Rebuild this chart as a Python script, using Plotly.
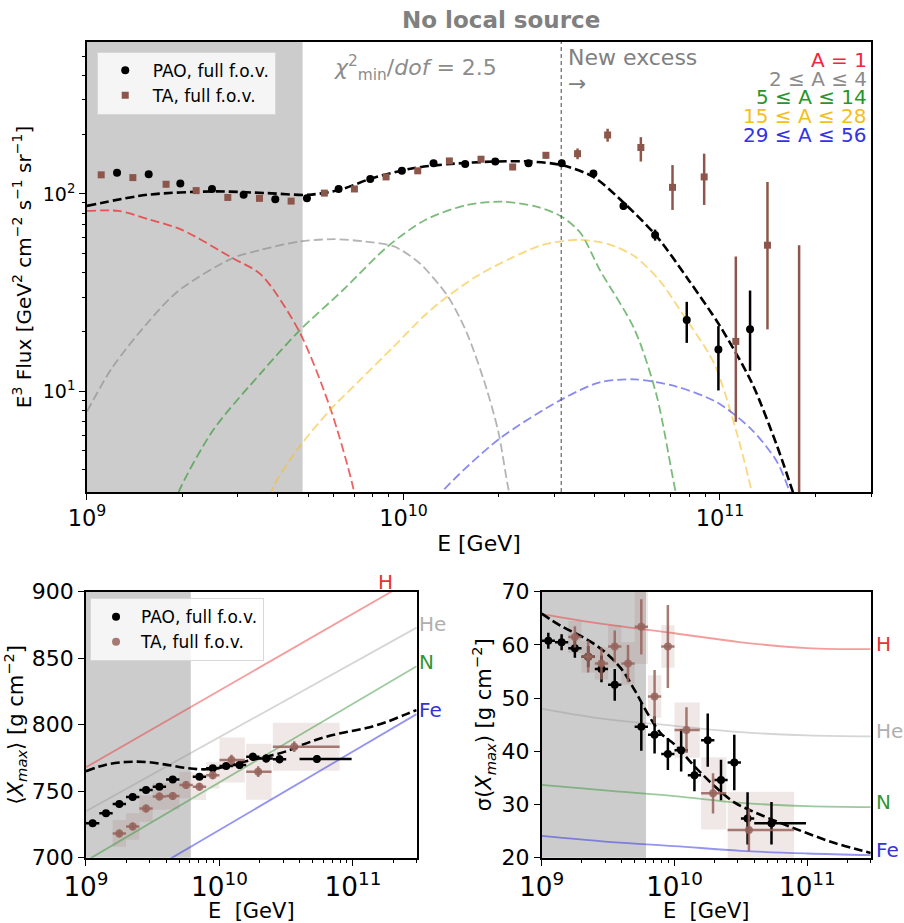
import numpy as np
import plotly.graph_objects as go

# ---------------- Top panel: E^3-weighted flux ----------------
pao_logE = [9.095, 9.195, 9.295, 9.395, 9.495, 9.595, 9.695, 9.795, 9.895, 9.995, 10.095,
            10.195, 10.29, 10.395, 10.5, 10.6, 10.695, 10.795, 10.895, 10.995, 11.095]
pao_flux = [128, 126, 113, 106, 99, 94, 95, 106, 119, 131, 143,
            142, 146, 143, 143, 127, 87, 62, 23, 16.3, 20.6]
pao_flux_up = [3, 3, 3, 2, 2, 2, 2, 2, 2, 2, 2, 3, 3, 3, 3, 3, 4, 4, 5.4, 5.1, 11.8]
pao_flux_dn = [3, 3, 3, 2, 2, 2, 2, 2, 2, 2, 2, 3, 3, 3, 3, 3, 4, 4, 5.4, 6.2, 7.9]

ta_logE = [9.045, 9.145, 9.25, 9.345, 9.445, 9.545, 9.645, 9.75, 9.845, 9.945, 10.045, 10.145,
           10.245, 10.345, 10.45, 10.55, 10.645, 10.75, 10.85, 10.95, 11.05, 11.15, 11.25]
ta_flux = [125, 121, 112, 104, 96, 95, 92, 101, 106, 122, 131, 147,
           150, 137, 157, 160, 199, 172, 108, 122, 17.9, 55, 2.0]
ta_flux_up = [4, 4, 4, 3, 3, 3, 3, 3, 3, 3, 4, 4, 4, 5, 6, 10, 15, 22, 32, 38, 30.3, 60, 53]
ta_flux_dn = [4, 4, 4, 3, 3, 3, 3, 3, 3, 3, 4, 4, 4, 5, 6, 10, 15, 26, 25, 34, 10.9, 34.4, 1.9]

# model components (mass groups) and total
h_logE = [9.0, 9.1, 9.2, 9.3, 9.46, 9.55, 9.67, 9.77, 9.84, 9.87]
h_flux = [82, 82, 74, 65.8, 47.3, 39, 20.2, 8.1, 3.3, 1.8]
he_logE = [9.0, 9.08, 9.19, 9.29, 9.46, 9.55, 9.67, 9.78, 9.88, 9.97, 10.05, 10.14, 10.2,
           10.26, 10.3, 10.33, 10.36]
he_flux = [7.9, 13.2, 22.1, 32.4, 47.3, 52.1, 57.4, 59.0, 57.4, 54.2, 44.7, 30.3, 19.8,
           10.6, 6.2, 3.3, 2.0]
n_logE = [9.25, 9.29, 9.4, 9.55, 9.67, 9.81, 9.95, 10.07, 10.2, 10.31, 10.42, 10.5, 10.56,
          10.62, 10.73, 10.8, 10.86, 10.89]
n_flux = [2.0, 3.1, 6.4, 12.4, 20.2, 32.7, 54.2, 74.0, 87.9, 91.4, 86.3, 76.7, 63.2,
          41.3, 20.6, 9.5, 3.1, 2.0]
si_logE = [9.56, 9.59, 9.67, 9.77, 9.86, 9.97, 10.07, 10.14, 10.23, 10.34, 10.44, 10.55,
           10.65, 10.73, 10.81, 10.88, 10.98, 11.05, 11.1, 11.12]
si_flux = [2.2, 3.3, 5.2, 8.1, 11.3, 16.9, 24.5, 30.3, 38.2, 47.3, 55.2, 58.6,
           55.6, 48.3, 36.3, 24.9, 14, 6.4, 3.1, 2.0]
fe_logE = [10.08, 10.13, 10.3, 10.5, 10.62, 10.73, 10.86, 10.99, 11.1, 11.18, 11.22, 11.25]
fe_flux = [2.5, 3.2, 5.7, 9.1, 11.1, 11.5, 10.6, 8.8, 6.4, 4.4, 3.1, 2.2]
tot_logE = [9.0, 9.19, 9.4, 9.57, 9.7, 9.8, 9.9, 10.03, 10.15, 10.29, 10.4, 10.5, 10.6, 10.7,
            10.8, 10.9, 11.0, 11.1, 11.18, 11.23, 11.26]
tot_flux = [87, 99, 103, 101, 99, 105, 120, 135, 142, 146, 146, 140, 122, 89,
            61, 36.8, 21.4, 11.1, 5.3, 3.1, 2.2]

group_labels = ["A = 1", "2 ≤ A ≤ 4", "5 ≤ A ≤ 14", "15 ≤ A ≤ 28", "29 ≤ A ≤ 56"]
fit_chi2_dof = 2.5
E_excess = 3.15e10
E_shade_top = 4.8e9
flux_ticks = [10, 100]

# ---------------- Bottom panels: Xmax moments ----------------
xm_pao_logE = [9.05, 9.15, 9.25, 9.35, 9.45, 9.55, 9.65, 9.85, 9.95, 10.05, 10.15, 10.25, 10.35, 10.45, 10.73]
xm_pao = [726.0, 733.4, 740.4, 745.6, 750.9, 753.4, 758.9, 760.9, 767.2, 769.0, 769.7, 776.0, 774.7, 774.0, 774.2]
xm_pao_err = [2.5, 2.5, 2.5, 2.5, 2.5, 2.5, 2.5, 2.5, 2.5, 2.5, 3, 3, 3, 3, 3]
xm_pao_dlo = [0.05] * 14 + [0.13]
xm_pao_dhi = [0.05] * 14 + [0.26]

sg_pao_logE = [9.05, 9.15, 9.25, 9.35, 9.45, 9.55, 9.75, 9.85, 9.95, 10.05, 10.15, 10.25, 10.35, 10.45, 10.55, 10.73]
sg_pao = [60.8, 60.5, 59.4, 57.8, 55.5, 52.5, 44.6, 43.1, 39.5, 40.2, 35.5, 42.1, 34.6, 37.9, 27.4, 26.5]
sg_pao_err = [1.5, 1.5, 1.8, 2.0, 2.5, 3.0, 4.5, 3.5, 3.0, 4.0, 3.0, 5.0, 3.8, 5.2, 4.9, 4.0]
sg_pao_dlo = [0.05] * 15 + [0.13]
sg_pao_dhi = [0.05] * 15 + [0.26]

ta_b_logE = [9.25, 9.35, 9.45, 9.55, 9.65, 9.75, 9.85, 9.95, 10.09, 10.29, 10.56]
ta_xm = [718.3, 723.5, 737.0, 746.0, 746.4, 754.7, 753.4, 762.0, 773.5, 764.7, 783.5]
ta_xm_err = [3, 3, 3, 3, 3, 3, 3, 3, 4, 4, 4]
ta_xm_sys = [10, 10, 10, 10, 10, 10, 10, 10, 17, 21, 18]
ta_sg = [61.5, 57.8, 56.5, 59.7, 56.5, 63.4, 50.3, 59.7, 44.0, 32.1, 25.2]
ta_sg_err = [2, 3, 3, 3, 3.5, 5.2, 5, 7.8, 4.3, 3.8, 4]
ta_sg_sys = [3, 3, 3, 4, 4, 7, 4, 4, 5.2, 6.8, 7.2]
ta_dlo = [0.05] * 8 + [0.09, 0.09, 0.16]
ta_dhi = [0.05] * 8 + [0.10, 0.10, 0.34]

xm_model_logE = [9.0, 9.15, 9.3, 9.45, 9.6, 9.75, 9.9, 10.05, 10.2, 10.35, 10.5, 10.65,
                 10.8, 10.95, 11.1, 11.25, 11.4, 11.477]
xm_model = [765, 770, 772, 772, 770, 767.5, 766.5, 768.5, 772.5, 776, 780, 786,
            791, 794.5, 797.5, 802, 808, 811]
sg_model_logE = [9.0, 9.15, 9.3, 9.45, 9.6, 9.7, 9.8, 9.9, 10.0, 10.15, 10.3, 10.45,
                 10.6, 10.8, 11.0, 11.2, 11.4, 11.477]
sg_model = [65.9, 63.5, 61.6, 59.2, 55.5, 51.5, 47.0, 43.3, 41.3, 37.2, 33.5, 30.4,
            28.6, 26.5, 24.6, 22.8, 21.4, 20.9]

# pure-element expectations
elem_names = ["H", "He", "N", "Fe"]
xm_elem_logE = [9.0, 11.477]
xm_elem = {"H": [768, 911], "He": [735, 873], "N": [697.6, 844], "Fe": [662, 808]}
sg_elem_logE = [9.0, 9.5, 10.0, 10.5, 11.0, 11.477]
sg_elem = {"H": [65.8, 63.8, 62.2, 60.5, 59.4, 59.2],
           "He": [48.0, 46.0, 44.8, 43.6, 43.0, 42.8],
           "N": [33.7, 32.6, 31.6, 30.3, 29.7, 29.5],
           "Fe": [24.1, 23.0, 22.2, 21.3, 20.8, 20.5]}
E_shade_bottom = 6.1e9

E_min, E_max = 1e9, 3e11

# ---------------- styling ----------------
FONT = "DejaVu Sans"
BROWN = "#8c564b"
BROWN_B = "rgba(150,100,92,0.85)"
BOX = "rgba(150,95,85,0.14)"
SHADE = "rgba(128,128,128,0.40)"
grp_line = ["rgba(235,45,45,0.75)", "rgba(140,140,140,0.65)", "rgba(50,150,50,0.65)",
            "rgba(245,190,40,0.6)", "rgba(60,60,235,0.6)"]
grp_text = ["rgb(235,40,60)", "rgb(140,140,140)", "rgb(40,150,40)", "rgb(245,190,30)", "rgb(50,50,230)"]
elem_line = {"H": "rgba(235,60,60,0.5)", "He": "rgba(150,150,150,0.4)",
             "N": "rgba(60,150,60,0.5)", "Fe": "rgba(60,60,230,0.55)"}
elem_text = {"H": "rgb(230,50,50)", "He": "rgb(175,175,175)", "N": "rgb(50,150,50)", "Fe": "rgb(50,50,220)"}


def E(v):
    return [10 ** x for x in v]


def band(x0, x1, y0, y1, xa, ya):
    return go.Scatter(x=[x0, x1, x1, x0, x0], y=[y0, y0, y1, y1, y0], mode="lines",
                      fill="toself", fillcolor=SHADE, line=dict(width=0),
                      hoverinfo="skip", showlegend=False, xaxis=xa, yaxis=ya)


def boxes(logE, vals, sys, dlo, dhi, xa, ya):
    xs, ys = [], []
    for le, v, s, a, b in zip(logE, vals, sys, dlo, dhi):
        x0, x1 = 10 ** (le - a), 10 ** (le + b)
        xs += [x0, x1, x1, x0, x0, None]
        ys += [v - s, v - s, v + s, v + s, v - s, None]
    return go.Scatter(x=xs, y=ys, mode="lines", fill="toself", fillcolor=BOX,
                      line=dict(width=0), hoverinfo="skip", showlegend=False,
                      xaxis=xa, yaxis=ya)


def xerr(logE, dlo, dhi):
    ex = [10 ** le for le in logE]
    hi = [e * (10 ** b - 1) for e, b in zip(ex, dhi)]
    lo = [e * (1 - 10 ** -a) for e, a in zip(ex, dlo)]
    return dict(type="data", symmetric=False, array=hi, arrayminus=lo,
                thickness=2.5, width=0)


fig = go.Figure()

# ---- top panel ----
fig.add_trace(band(E_min, E_shade_top, 1e-1, 1e4, "x", "y"))
comps = [(h_logE, h_flux), (he_logE, he_flux), (n_logE, n_flux), (si_logE, si_flux), (fe_logE, fe_flux)]
for (lx, fx), col in zip(comps, grp_line):
    fig.add_trace(go.Scatter(x=E(lx), y=fx, mode="lines",
                             line=dict(color=col, width=1.8, dash="9px,4px", shape="spline", smoothing=0.8),
                             showlegend=False, hoverinfo="skip", xaxis="x", yaxis="y"))
fig.add_trace(go.Scatter(x=E(tot_logE), y=tot_flux, mode="lines",
                         line=dict(color="black", width=2.6, dash="9px,4px", shape="spline", smoothing=0.8),
                         showlegend=False, hoverinfo="skip", xaxis="x", yaxis="y"))
fig.add_trace(go.Scatter(x=[E_excess, E_excess], y=[1e-1, 1e4], mode="lines",
                         line=dict(color="rgb(70,70,70)", width=1, dash="4px,3px"),
                         showlegend=False, hoverinfo="skip", xaxis="x", yaxis="y"))
fig.add_trace(go.Scatter(x=E(pao_logE), y=pao_flux, mode="markers", name="PAO, full f.o.v.",
                         marker=dict(color="black", size=8, symbol="circle"),
                         error_y=dict(type="data", symmetric=False, array=pao_flux_up, arrayminus=pao_flux_dn,
                                      color="black", thickness=2.5, width=0),
                         legend="legend", xaxis="x", yaxis="y"))
fig.add_trace(go.Scatter(x=E(ta_logE), y=ta_flux, mode="markers", name="TA, full f.o.v.",
                         marker=dict(color=BROWN, size=7, symbol="square"),
                         error_y=dict(type="data", symmetric=False, array=ta_flux_up, arrayminus=ta_flux_dn,
                                      color=BROWN, thickness=2.5, width=0),
                         legend="legend", xaxis="x", yaxis="y"))

# ---- bottom-left: <Xmax> ----
fig.add_trace(band(E_min, E_shade_bottom, 600, 1000, "x2", "y2"))
fig.add_trace(boxes(ta_b_logE, ta_xm, ta_xm_sys, ta_dlo, ta_dhi, "x2", "y2"))
for el in elem_names:
    fig.add_trace(go.Scatter(x=E(xm_elem_logE), y=xm_elem[el], mode="lines",
                             line=dict(color=elem_line[el], width=1.8),
                             showlegend=False, hoverinfo="skip", xaxis="x2", yaxis="y2"))
fig.add_trace(go.Scatter(x=E(xm_model_logE), y=xm_model, mode="lines",
                         line=dict(color="black", width=2.6, dash="9px,4px", shape="spline"),
                         showlegend=False, hoverinfo="skip", xaxis="x2", yaxis="y2"))
fig.add_trace(go.Scatter(x=E(xm_pao_logE), y=xm_pao, mode="markers", name="PAO, full f.o.v.",
                         marker=dict(color="black", size=8),
                         error_y=dict(type="data", array=xm_pao_err, color="black", thickness=2.5, width=0),
                         error_x={**xerr(xm_pao_logE, xm_pao_dlo, xm_pao_dhi), "color": "black"},
                         legend="legend2", xaxis="x2", yaxis="y2"))
fig.add_trace(go.Scatter(x=E(ta_b_logE), y=ta_xm, mode="markers", name="TA, full f.o.v.",
                         marker=dict(color=BROWN_B, size=8),
                         error_y=dict(type="data", array=ta_xm_err, color=BROWN_B, thickness=2.5, width=0),
                         error_x={**xerr(ta_b_logE, ta_dlo, ta_dhi), "color": BROWN_B},
                         legend="legend2", xaxis="x2", yaxis="y2"))

# ---- bottom-right: sigma(Xmax) ----
fig.add_trace(band(E_min, E_shade_bottom, 0, 100, "x3", "y3"))
fig.add_trace(boxes(ta_b_logE, ta_sg, ta_sg_sys, ta_dlo, ta_dhi, "x3", "y3"))
for el in elem_names:
    fig.add_trace(go.Scatter(x=E(sg_elem_logE), y=sg_elem[el], mode="lines",
                             line=dict(color=elem_line[el], width=1.8, shape="spline"),
                             showlegend=False, hoverinfo="skip", xaxis="x3", yaxis="y3"))
fig.add_trace(go.Scatter(x=E(sg_model_logE), y=sg_model, mode="lines",
                         line=dict(color="black", width=2.6, dash="9px,4px", shape="spline"),
                         showlegend=False, hoverinfo="skip", xaxis="x3", yaxis="y3"))
fig.add_trace(go.Scatter(x=E(sg_pao_logE), y=sg_pao, mode="markers", showlegend=False,
                         marker=dict(color="black", size=8),
                         error_y=dict(type="data", array=sg_pao_err, color="black", thickness=2.5, width=0),
                         error_x={**xerr(sg_pao_logE, sg_pao_dlo, sg_pao_dhi), "color": "black"},
                         xaxis="x3", yaxis="y3"))
fig.add_trace(go.Scatter(x=E(ta_b_logE), y=ta_sg, mode="markers", showlegend=False,
                         marker=dict(color=BROWN_B, size=8),
                         error_y=dict(type="data", array=ta_sg_err, color=BROWN_B, thickness=2.5, width=0),
                         error_x={**xerr(ta_b_logE, ta_dlo, ta_dhi), "color": BROWN_B},
                         xaxis="x3", yaxis="y3"))

# ---------------- axes ----------------
logx_range = [np.log10(E_min), np.log10(E_max)]


def xax(domain, anchor, tick_size, title, title_size):
    return dict(type="log", domain=domain, anchor=anchor, range=logx_range, dtick=1,
                exponentformat="power", showline=True, mirror=True, linecolor="black",
                linewidth=1.6, ticks="outside", ticklen=6, tickwidth=1.2, tickcolor="black",
                minor=dict(ticks="outside", ticklen=3, dtick="D1", tickcolor="black", tickwidth=1),
                showgrid=False, zeroline=False, automargin=False,
                tickfont=dict(family=FONT, size=tick_size, color="black"),
                title=dict(text=title, font=dict(family=FONT, size=title_size, color="black"), standoff=6))


def yax(domain, anchor, **kw):
    d = dict(domain=domain, anchor=anchor, showline=True, mirror=True, linecolor="black",
             linewidth=1.6, ticks="outside", ticklen=6, tickwidth=1.2, tickcolor="black",
             showgrid=False, zeroline=False, automargin=False)
    d.update(kw)
    return d


top_x = [0.0962, 0.9635]
top_y = [0.467, 0.9545]
bl_x = [0.0951, 0.4609]
br_x = [0.5992, 0.9632]
bot_y = [0.0707, 0.3589]
H = 923.0

annotations = [
    dict(text="<b>No local source</b>", x=0.554, y=1 - 20 / H, xref="paper", yref="paper",
         yanchor="middle", showarrow=False, font=dict(family=FONT, size=23, color="rgb(128,128,128)")),
    dict(text=f"<i>χ</i><sup>2</sup><sub>min</sub>/<i>dof</i> = {fit_chi2_dof}", x=0.367, y=1 - 68 / H,
         xref="paper", yref="paper", xanchor="left", yanchor="middle", showarrow=False,
         font=dict(family=FONT, size=22, color="rgb(140,140,140)")),
    dict(text="New excess", x=0.626, y=1 - 58 / H, xref="paper", yref="paper", xanchor="left",
         yanchor="middle", showarrow=False, font=dict(family=FONT, size=22, color="rgb(128,128,128)")),
    dict(text="→", x=0.626, y=1 - 83 / H, xref="paper", yref="paper", xanchor="left",
         yanchor="middle", showarrow=False, font=dict(family=FONT, size=22, color="rgb(128,128,128)")),
]
# mass-group key, one coloured row per group
legend_rows_px = [60, 79, 97.5, 116, 134.5]
for lab, col, py in zip(group_labels, grp_text, legend_rows_px):
    annotations.append(dict(text=lab, x=0.961, y=1 - py / H, xref="paper", yref="paper",
                            xanchor="right", yanchor="middle", showarrow=False,
                            font=dict(family=FONT, size=20, color=col)))
# element labels next to the reference lines
for el in elem_names:
    if el == "H":
        annotations.append(dict(text=el, x=np.log10(1.75e11), y=xm_elem[el][-1] - 14, xref="x2", yref="y2",
                                yanchor="bottom", showarrow=False,
                                font=dict(family=FONT, size=20, color=elem_text[el])))
    else:
        annotations.append(dict(text=el, x=1.0, y=xm_elem[el][-1], xref="x2 domain", yref="y2",
                                xanchor="left", yanchor="middle", yshift=4, showarrow=False,
                                font=dict(family=FONT, size=20, color=elem_text[el])))
    annotations.append(dict(text=el, x=1.0, y=sg_elem[el][-1], xref="x3 domain", yref="y3",
                            xanchor="left", yanchor="middle", xshift=3, yshift=5, showarrow=False,
                            font=dict(family=FONT, size=20, color=elem_text[el])))

fig.update_layout(
    width=904, height=923, margin=dict(l=0, r=0, t=0, b=0),
    paper_bgcolor="white", plot_bgcolor="white",
    font=dict(family=FONT, color="black"),
    xaxis=xax(top_x, "y", 18, "E [GeV]", 22),
    yaxis=yax(top_y, "x", type="log", range=[0.49, 2.77], tickmode="array", tickvals=flux_ticks,
              ticktext=[f"10<sup>{int(np.log10(v))}</sup>" for v in flux_ticks],
              minor=dict(ticks="outside", ticklen=3, dtick="D1", tickcolor="black", tickwidth=1),
              tickfont=dict(family=FONT, size=19, color="black"),
              title=dict(text="E<sup>3</sup> Flux [GeV<sup>2</sup> cm<sup>−2</sup> s<sup>−1</sup> sr<sup>−1</sup>]",
                         font=dict(family=FONT, size=20, color="black"), standoff=6)),
    xaxis2=xax(bl_x, "y2", 21, "E  [GeV]", 21),
    yaxis2=yax(bot_y, "x2", range=[700, 900], dtick=50,
               tickfont=dict(family=FONT, size=22, color="black"),
               title=dict(text="⟨<i>X</i><sub><i>max</i></sub>⟩ [g cm<sup>−2</sup>]",
                          font=dict(family=FONT, size=21, color="black"), standoff=4)),
    xaxis3=xax(br_x, "y3", 21, "E  [GeV]", 21),
    yaxis3=yax(bot_y, "x3", range=[20, 70], dtick=10,
               tickfont=dict(family=FONT, size=22, color="black"),
               title=dict(text="σ(<i>X</i><sub><i>max</i></sub>) [g cm<sup>−2</sup>]",
                          font=dict(family=FONT, size=21, color="black"), standoff=4)),
    legend=dict(x=0.107, y=0.944, xanchor="left", yanchor="top", bgcolor="rgba(255,255,255,0.8)",
                bordercolor="rgb(215,215,215)", borderwidth=1, itemwidth=45,
                font=dict(family=FONT, size=17)),
    legend2=dict(x=0.0996, y=0.352, xanchor="left", yanchor="top", bgcolor="rgba(255,255,255,0.8)",
                 bordercolor="rgb(215,215,215)", borderwidth=1, itemwidth=40,
                 font=dict(family=FONT, size=17)),
    annotations=annotations,
)

fig.write_html("out.html")
